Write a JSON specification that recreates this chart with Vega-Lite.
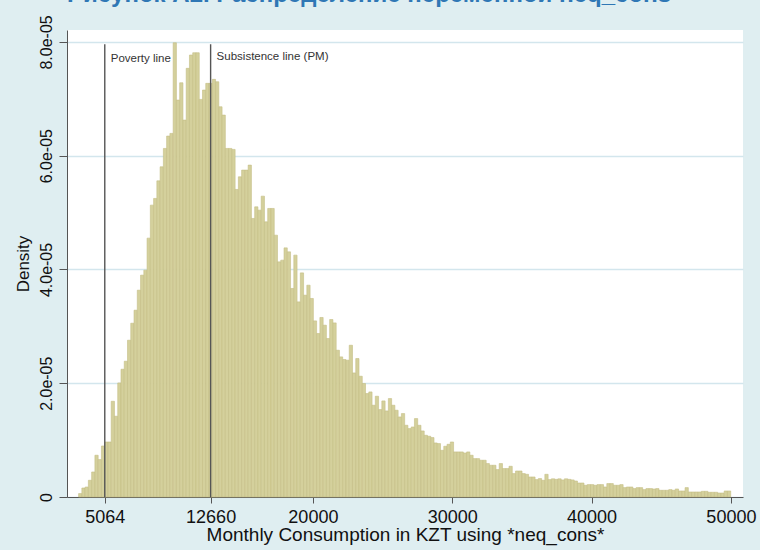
{
"$schema": "https://vega.github.io/schema/vega-lite/v6.json",
"autosize": {"type": "none"},
"width": 676, "height": 467,
"padding": {"left": 67, "top": 30, "right": 17, "bottom": 53},
"background": "#dfeef1",
"title": {"text": "Рисунок А2. Распределение переменной neq_cons", "anchor": "start", "frame": "group", "offset": 0, "dy": 11, "baseline": "alphabetic", "fontSize": 24, "fontWeight": "bold", "color": "#2f77b5", "font": "Liberation Sans"},
"config": {"view": {"fill": "white", "stroke": null}, "font": "Liberation Sans"},
"datasets": {
"hist": [
{"x":3150,"d":0.060e-5},{"x":3384,"d":0.158e-5},{"x":3618,"d":0.175e-5},{"x":3852,"d":0.294e-5},{"x":4086,"d":0.440e-5},
{"x":4320,"d":0.734e-5},{"x":4554,"d":0.658e-5},{"x":4788,"d":0.897e-5},{"x":5022,"d":0.967e-5},{"x":5256,"d":0.967e-5},
{"x":5490,"d":1.683e-5},{"x":5724,"d":1.420e-5},{"x":5958,"d":2.005e-5},{"x":6192,"d":2.246e-5},{"x":6426,"d":2.387e-5},
{"x":6660,"d":2.756e-5},{"x":6894,"d":3.055e-5},{"x":7128,"d":3.284e-5},{"x":7362,"d":3.636e-5},{"x":7596,"d":3.900e-5},
{"x":7830,"d":3.988e-5},{"x":8064,"d":4.551e-5},{"x":8298,"d":5.131e-5},{"x":8532,"d":5.249e-5},{"x":8766,"d":5.558e-5},
{"x":9000,"d":5.805e-5},{"x":9234,"d":6.128e-5},{"x":9468,"d":6.345e-5},{"x":9702,"d":6.392e-5},{"x":9936,"d":7.986e-5},
{"x":10170,"d":6.978e-5},{"x":10404,"d":7.282e-5},{"x":10638,"d":6.626e-5},{"x":10872,"d":7.536e-5},{"x":11106,"d":7.770e-5},
{"x":11340,"d":7.810e-5},{"x":11574,"d":7.810e-5},{"x":11808,"d":6.990e-5},{"x":12042,"d":7.154e-5},{"x":12276,"d":7.272e-5},
{"x":12510,"d":7.272e-5},{"x":12744,"d":7.342e-5},{"x":12978,"d":7.300e-5},{"x":13212,"d":6.860e-5},{"x":13446,"d":6.714e-5},
{"x":13680,"d":6.128e-5},{"x":13914,"d":6.128e-5},{"x":14148,"d":6.111e-5},{"x":14382,"d":5.407e-5},{"x":14616,"d":5.629e-5},
{"x":14850,"d":5.747e-5},{"x":15084,"d":5.747e-5},{"x":15318,"d":5.835e-5},{"x":15552,"d":4.897e-5},{"x":15786,"d":5.101e-5},
{"x":16020,"d":5.043e-5},{"x":16254,"d":5.289e-5},{"x":16488,"d":4.837e-5},{"x":16722,"d":5.073e-5},{"x":16956,"d":5.073e-5},
{"x":17190,"d":4.603e-5},{"x":17424,"d":4.134e-5},{"x":17658,"d":4.164e-5},{"x":17892,"d":4.380e-5},{"x":18126,"d":4.310e-5},
{"x":18360,"d":3.666e-5},{"x":18594,"d":4.252e-5},{"x":18828,"d":3.430e-5},{"x":19062,"d":3.940e-5},{"x":19296,"d":3.548e-5},
{"x":19530,"d":3.724e-5},{"x":19764,"d":3.490e-5},{"x":19998,"d":3.096e-5},{"x":20232,"d":2.874e-5},{"x":20466,"d":3.156e-5},
{"x":20700,"d":3.020e-5},{"x":20934,"d":2.786e-5},{"x":21168,"d":3.120e-5},{"x":21402,"d":3.061e-5},{"x":21636,"d":2.580e-5},
{"x":21870,"d":2.463e-5},{"x":22104,"d":2.417e-5},{"x":22338,"d":2.405e-5},{"x":22572,"d":2.668e-5},{"x":22806,"d":2.181e-5},
{"x":23040,"d":2.434e-5},{"x":23274,"d":2.123e-5},{"x":23508,"d":1.995e-5},{"x":23742,"d":1.819e-5},{"x":23976,"d":1.847e-5},
{"x":24210,"d":1.613e-5},{"x":24444,"d":1.771e-5},{"x":24678,"d":1.537e-5},{"x":24912,"d":1.689e-5},{"x":25146,"d":1.513e-5},
{"x":25380,"d":1.731e-5},{"x":25614,"d":1.613e-5},{"x":25848,"d":1.525e-5},{"x":26082,"d":1.407e-5},{"x":26316,"d":1.467e-5},
{"x":26550,"d":1.261e-5},{"x":26784,"d":1.203e-5},{"x":27018,"d":1.231e-5},{"x":27252,"d":1.379e-5},{"x":27486,"d":1.261e-5},
{"x":27720,"d":1.161e-5},{"x":27954,"d":1.085e-5},{"x":28188,"d":1.068e-5},{"x":28422,"d":1.045e-5},{"x":28656,"d":0.950e-5},
{"x":28890,"d":0.939e-5},{"x":29124,"d":0.821e-5},{"x":29358,"d":0.892e-5},{"x":29592,"d":0.927e-5},{"x":29826,"d":0.967e-5},
{"x":30060,"d":0.792e-5},{"x":30294,"d":0.792e-5},{"x":30528,"d":0.792e-5},{"x":30762,"d":0.774e-5},{"x":30996,"d":0.792e-5},
{"x":31230,"d":0.734e-5},{"x":31464,"d":0.675e-5},{"x":31698,"d":0.675e-5},{"x":31932,"d":0.646e-5},{"x":32166,"d":0.646e-5},
{"x":32400,"d":0.588e-5},{"x":32634,"d":0.558e-5},{"x":32868,"d":0.558e-5},{"x":33102,"d":0.482e-5},{"x":33336,"d":0.588e-5},
{"x":33570,"d":0.500e-5},{"x":33804,"d":0.500e-5},{"x":34038,"d":0.540e-5},{"x":34272,"d":0.412e-5},{"x":34506,"d":0.457e-5},
{"x":34740,"d":0.457e-5},{"x":34974,"d":0.412e-5},{"x":35208,"d":0.399e-5},{"x":35442,"d":0.352e-5},{"x":35676,"d":0.352e-5},
{"x":35910,"d":0.306e-5},{"x":36144,"d":0.324e-5},{"x":36378,"d":0.294e-5},{"x":36612,"d":0.399e-5},{"x":36846,"d":0.306e-5},
{"x":37080,"d":0.320e-5},{"x":37314,"d":0.310e-5},{"x":37548,"d":0.320e-5},{"x":37782,"d":0.300e-5},{"x":38016,"d":0.320e-5},
{"x":38250,"d":0.310e-5},{"x":38484,"d":0.300e-5},{"x":38718,"d":0.281e-5},{"x":38952,"d":0.246e-5},{"x":39186,"d":0.246e-5},
{"x":39420,"d":0.206e-5},{"x":39654,"d":0.218e-5},{"x":39888,"d":0.218e-5},{"x":40122,"d":0.206e-5},{"x":40356,"d":0.218e-5},
{"x":40590,"d":0.218e-5},{"x":40824,"d":0.176e-5},{"x":41058,"d":0.236e-5},{"x":41292,"d":0.236e-5},{"x":41526,"d":0.206e-5},
{"x":41760,"d":0.206e-5},{"x":41994,"d":0.218e-5},{"x":42228,"d":0.165e-5},{"x":42462,"d":0.176e-5},{"x":42696,"d":0.176e-5},
{"x":42930,"d":0.148e-5},{"x":43164,"d":0.165e-5},{"x":43398,"d":0.165e-5},{"x":43632,"d":0.130e-5},{"x":43866,"d":0.148e-5},
{"x":44100,"d":0.148e-5},{"x":44334,"d":0.140e-5},{"x":44568,"d":0.148e-5},{"x":44802,"d":0.118e-5},{"x":45036,"d":0.118e-5},
{"x":45270,"d":0.118e-5},{"x":45504,"d":0.130e-5},{"x":45738,"d":0.118e-5},{"x":45972,"d":0.141e-5},{"x":46206,"d":0.106e-5},
{"x":46440,"d":0.106e-5},{"x":46674,"d":0.165e-5},{"x":46908,"d":0.088e-5},{"x":47142,"d":0.088e-5},{"x":47376,"d":0.088e-5},
{"x":47610,"d":0.088e-5},{"x":47844,"d":0.100e-5},{"x":48078,"d":0.100e-5},{"x":48312,"d":0.083e-5},{"x":48546,"d":0.083e-5},
{"x":48780,"d":0.083e-5},{"x":49014,"d":0.070e-5},{"x":49248,"d":0.070e-5},{"x":49482,"d":0.106e-5},{"x":49716,"d":0.106e-5}
],
"lines": [
{"x": 5064, "d": 0, "d2": 7.96e-5},
{"x": 12660, "d": 0, "d2": 7.96e-5}
],
"labels": [
{"x": 5064, "d": 7.7e-5, "label": "Poverty line"},
{"x": 12660, "d": 7.73e-5, "label": "Subsistence line (PM)"}
]
},
"layer": [
{
"data": {"name": "hist"},
"mark": {"type": "bar", "fill": "#d4d09c", "stroke": "#c4be85", "strokeWidth": 0.6, "binSpacing": 0},
"encoding": {
"x": {"field": "x", "type": "quantitative", "bin": {"binned": true, "step": 234},
 "scale": {"domain": [2353, 50868], "nice": false, "zero": false},
 "axis": {"values": [5064, 12660, 20000, 30000, 40000, 50000], "format": "d", "title": "Monthly Consumption in KZT using *neq_cons*",
  "grid": false, "domainColor": "#555555", "tickColor": "#555555", "tickSize": 6, "labelFontSize": 18, "labelColor": "#111111",
  "labelPadding": 5, "titleFontSize": 19, "titleFontWeight": "normal", "titleColor": "#111111", "titlePadding": -1, "labelFlush": false}},
"y": {"field": "d", "type": "quantitative",
 "scale": {"domain": [0, 8.21e-5], "nice": false},
 "axis": {"values": [0, 2e-5, 4e-5, 6e-5, 8e-5], "labelExpr": "datum.value == 0 ? '0' : format(datum.value * 1e5, '.1f') + 'e-05'",
  "title": "Density", "grid": true, "gridColor": "#d3e6ed", "gridWidth": 1.3, "domainColor": "#555555", "tickColor": "#555555", "tickSize": 8,
  "labelAngle": 270, "labelFontSize": 16, "labelColor": "#111111", "labelPadding": 5, "titleFontSize": 17, "titleFontWeight": "normal",
  "titleColor": "#111111", "titlePadding": 6}}
}
},
{
"data": {"name": "lines"},
"mark": {"type": "rule", "color": "#555555", "strokeWidth": 1.4},
"encoding": {
"x": {"field": "x", "type": "quantitative"},
"y": {"field": "d", "type": "quantitative"},
"y2": {"field": "d2"}
}
},
{
"data": {"name": "labels"},
"mark": {"type": "text", "align": "left", "baseline": "middle", "dx": 6, "fontSize": 11.5, "color": "#333333"},
"encoding": {
"x": {"field": "x", "type": "quantitative"},
"y": {"field": "d", "type": "quantitative"},
"text": {"field": "label"}
}
}
]
}
